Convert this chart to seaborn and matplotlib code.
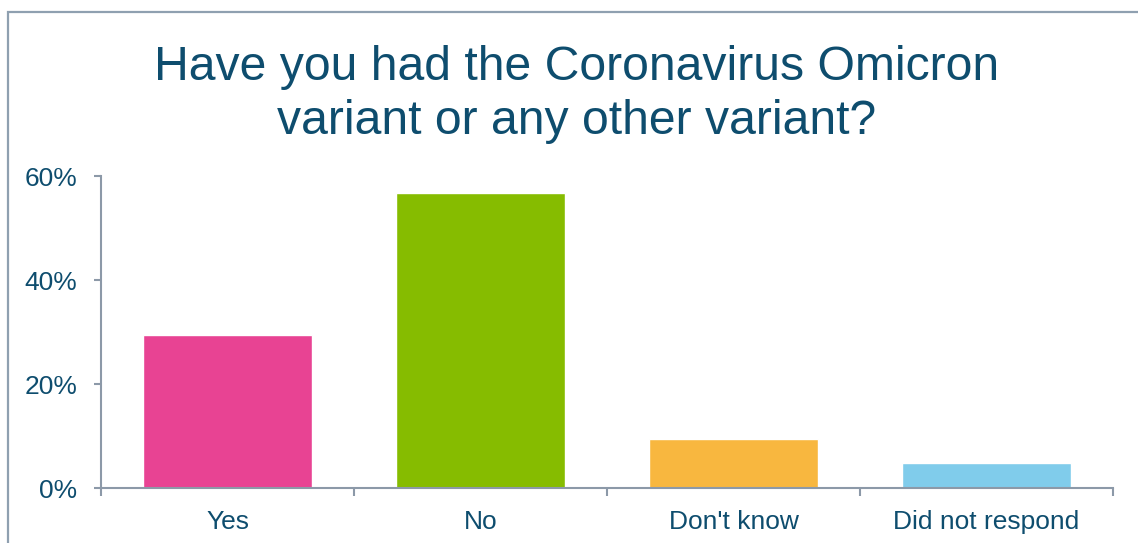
import matplotlib
matplotlib.use("Agg")
import matplotlib.pyplot as plt
import matplotlib.patches as mpatches
import seaborn as sns
import pandas as pd
import numpy as np

# Survey responses
categories = ["Yes", "No", "Don't know", "Did not respond"]
shares = [29.4, 56.7, 9.5, 4.9]
colors = ["#E84393", "#86BC00", "#F8B73F", "#80CCEB"]
ytick_vals = [0, 20, 40, 60]
ytick_labels = ["0%", "20%", "40%", "60%"]
title_lines = ["Have you had the Coronavirus Omicron", "variant or any other variant?"]

df = pd.DataFrame({"category": categories, "share": shares})

sns.set_theme(style="white")
plt.rcParams["font.family"] = ["Liberation Sans", "DejaVu Sans"]

text_color = "#0E4D6E"
axis_color = "#8C99A8"

W, H = 1138, 543
fig = plt.figure(figsize=(W / 100, H / 100), dpi=100)
ax = fig.add_axes([101 / W, 1 - 488 / H, (1113 - 101) / W, (488 - 176) / H])

sns.barplot(data=df, x="category", y="share", hue="category",
            palette=colors, order=categories, hue_order=categories,
            width=0.67, legend=False, ax=ax, saturation=1)

ax.set_xlim(-0.5, len(categories) - 0.5)
ax.set_ylim(0, 60)
ax.set_yticks(ytick_vals)
ax.set_yticklabels(ytick_labels)
ax.set_xlabel("")
ax.set_ylabel("")

for side in ["top", "right"]:
    ax.spines[side].set_visible(False)
for side in ["left", "bottom"]:
    ax.spines[side].set_color(axis_color)
    ax.spines[side].set_linewidth(1.5)

ax.tick_params(axis="y", which="major", length=5, width=1.5, color=axis_color,
               labelsize=19, labelcolor=text_color, pad=12, left=True)
ax.tick_params(axis="x", which="major", length=0, labelsize=19,
               labelcolor=text_color, pad=15.5, bottom=True)
ax.set_xticks(np.arange(-0.5, len(categories), 1.0), minor=True)
ax.tick_params(axis="x", which="minor", length=6, width=1.5, color=axis_color,
               bottom=True)

# Two-line title, placed by baseline
for line, base_y in zip(title_lines, [80, 134]):
    fig.text(0.507, 1 - base_y / H, line, ha="center", va="baseline",
             fontsize=34.7, color=text_color)

# Chart frame
frame = mpatches.Rectangle((8 / W, -0.05), 1.2, 1 - 12 / H + 0.05,
                           transform=fig.transFigure, fill=False,
                           edgecolor="#8FA0B0", linewidth=1.6)
fig.patches.append(frame)

fig.savefig("out.png", dpi=100)
